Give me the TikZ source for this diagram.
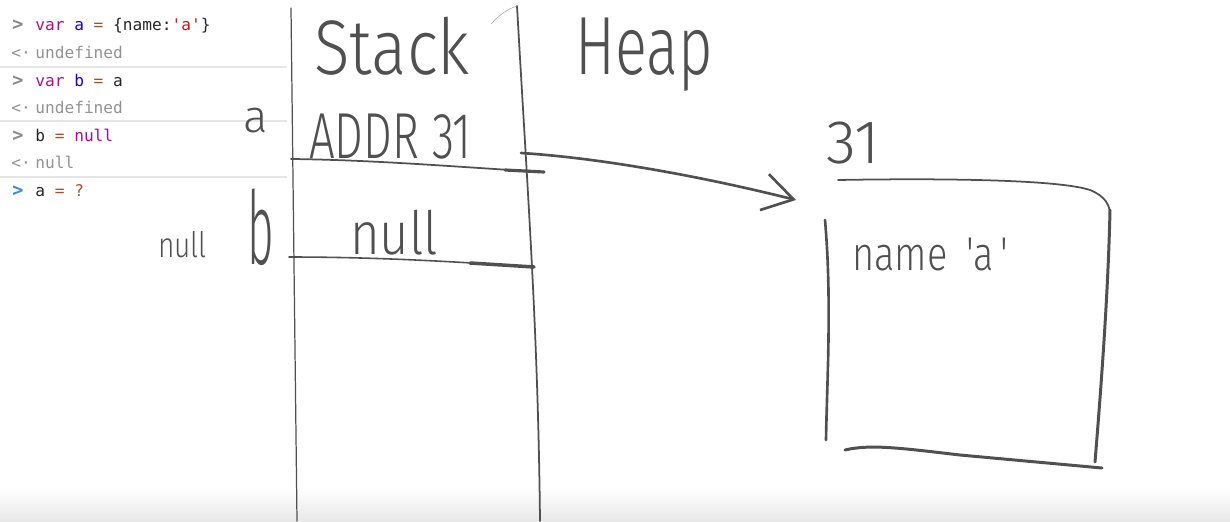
\documentclass[tikz,border=0pt]{standalone}
\usepackage{fontspec}
\setmonofont{DejaVu Sans Mono}
\newfontfamily\handfont{Fira Sans Light}
\usetikzlibrary{arrows.meta}

\definecolor{kwpurple}{HTML}{AA0D91}
\definecolor{varblue}{HTML}{1C00CF}
\definecolor{opbrown}{HTML}{A0522D}
\definecolor{strred}{HTML}{C41A16}
\definecolor{promptgray}{HTML}{8A8A8A}
\definecolor{resgray}{HTML}{777777}
\definecolor{promptblue}{HTML}{3B86E0}
\definecolor{sepgray}{HTML}{E6E6E6}
\definecolor{inkgray}{HTML}{505050}

\tikzset{
  code/.style={anchor=base west, inner sep=0pt, text=black!85,
    font=\ttfamily\fontsize{9.2}{11}\selectfont},
  prompt/.style={code, text=promptgray, font=\ttfamily\bfseries\fontsize{10.5}{11}\selectfont},
  result/.style={code, text=resgray!80},
  hand/.style={anchor=base west, inner sep=0pt, text=inkgray,
    font=\handfont\fontsize{#1}{#1}\selectfont},
  ink/.style={draw=inkgray, line width=#1, line cap=round},
}

\begin{document}
\begin{tikzpicture}[x=0.02cm,y=-0.02cm]
  \useasboundingbox (0,0) rectangle (1230,521);
  \shade[top color=white, bottom color=black!9] (0,488) rectangle (1230,521);

  % console
  \draw[sepgray, line width=0.7pt] (0,67) -- (287,67);
  \draw[sepgray, line width=0.7pt] (0,121) -- (287,121);
  \draw[sepgray, line width=0.7pt] (0,177) -- (287,177);

  \node[prompt] (p1) at (12,30) {>};
  \node[code] (in1) at (35,30) {\textcolor{kwpurple}{var} \textcolor{varblue}{a} \textcolor{opbrown}{=} \{name:\textcolor{strred}{'a'}\}};
  \node[result] (r1) at (11,58) {<·};
  \node[result] (out1) at (35,58) {undefined};
  \node[prompt] (p2) at (12,86) {>};
  \node[code] (in2) at (35,86) {\textcolor{kwpurple}{var} \textcolor{varblue}{b} \textcolor{opbrown}{=} a};
  \node[result] (r2) at (11,113) {<·};
  \node[result] (out2) at (35,113) {undefined};
  \node[prompt] (p3) at (12,141) {>};
  \node[code] (in3) at (35,141) {b \textcolor{opbrown}{=} \textcolor{kwpurple}{null}};
  \node[result] (r3) at (11,168) {<·};
  \node[result] (out3) at (35,168) {null};
  \node[prompt, text=promptblue] (p4) at (12,196) {>};
  \node[code] (in4) at (35,196) {a \textcolor{opbrown}{=} \textcolor{opbrown}{?}};

  % stack
  \draw[ink=0.7pt] (291,8) -- (297,521);
  \draw[ink=1pt] (517,6) .. controls (528,200) and (538,330) .. (540,521);
  \draw[ink=0.3pt, draw=black!35] (491,24) .. controls (500,14) and (508,9) .. (517,6);
  \node[hand=44, xscale=0.85] (stack) at (314,74) {Stack};
  \node[hand=47, xscale=0.72] (heap) at (575,74) {Heap};

  \node[hand=26] (vara) at (243,132) {a};
  \node[hand=58, xscale=0.45] (varb) at (247,264) {b};
  \node[hand=20, xscale=0.8] (nullb) at (158,257) {null};

  \draw[ink=1pt] (291,159) .. controls (380,160) and (470,168) .. (544,172);
  \draw[ink=1.8pt] (505,170) -- (544,172);
  \node[hand=37, xscale=0.7] (addr) at (309,158) {ADDR 31};

  \draw[ink=0.9pt] (289,257) .. controls (380,257) and (460,262) .. (534,267);
  \draw[ink=2pt] (470,263) -- (534,267);
  \node[hand=34, xscale=0.85] (nullval) at (350,254) {null};

  % heap
  \node[hand=35] (objaddr) at (826,163) {31};
  \draw[ink=1pt] (838,180) .. controls (950,178) and (1060,180) .. (1090,190)
    .. controls (1105,196) and (1110,205) .. (1110,215);
  \draw[ink=1.7pt] (1110,210) .. controls (1108,300) and (1100,400) .. (1095,462);
  \draw[ink=1.7pt] (845,450) .. controls (870,444) and (900,448) .. (960,455) -- (1102,468);
  \draw[ink=1.5pt] (825,220) .. controls (832,300) and (827,380) .. (826,440);
  \node[hand=27, xscale=0.8] (objname) at (852,270) {name\enspace'a\,'};

  % reference
  \coordinate (slotA) at (521,153);
  \coordinate (objIn) at (796,200);
  \draw[ink=1.5pt, -{Straight Barb[length=6mm,width=7.4mm]}] (slotA)
    .. controls (600,158) and (700,176) .. (objIn);
\end{tikzpicture}
\end{document}
